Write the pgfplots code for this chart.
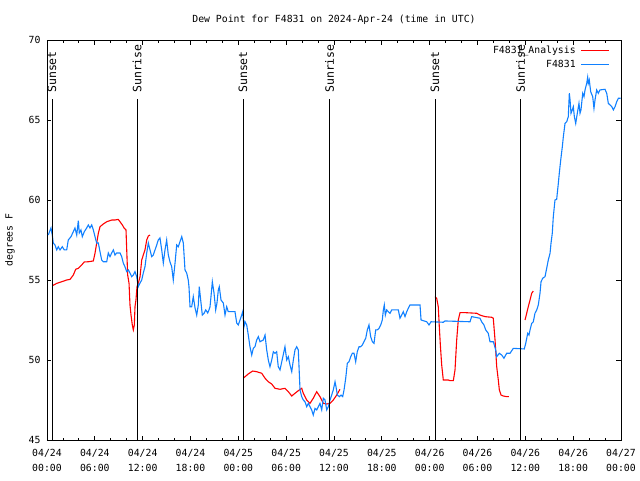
\documentclass[border=0pt]{standalone}
\usepackage{fontspec}
\setmainfont{DejaVu Sans Mono}
\usepackage{pgfplots}
\pgfplotsset{compat=1.18}
\definecolor{bl}{RGB}{16,128,255}
\definecolor{rd}{RGB}{255,0,0}
\pgfplotsset{longline/.style={legend image code/.code={\draw[#1] (0pt,0pt) -- (28pt,0pt);}}}
\begin{document}
\fontsize{9.8}{12}\selectfont
\begin{tikzpicture}
\useasboundingbox (-47pt,-40pt) rectangle (593pt,440pt);
\begin{axis}[
  at={(0,0)}, anchor=south west, scale only axis, width=574pt, height=400pt,
  xmin=0, xmax=72, ymin=45, ymax=70,
  xtick={0,6,...,72}, minor x tick num=2,
  xticklabels={{04/24\\00:00},{04/24\\06:00},{04/24\\12:00},{04/24\\18:00},{04/25\\00:00},{04/25\\06:00},{04/25\\12:00},{04/25\\18:00},{04/26\\00:00},{04/26\\06:00},{04/26\\12:00},{04/26\\18:00},{04/27\\00:00}},
  ytick={45,50,...,70},
  tick align=inside, major tick length=4.5pt, minor tick length=2.5pt,
  tick style={black, line width=0.8pt},
  axis line style={line width=0.8pt},
  /pgf/number format/assume math mode=true,
  tick label style={font=\fontsize{9.8}{15}\selectfont},
  xticklabel style={align=center, yshift=-6pt},
  yticklabel style={xshift=-3pt},
  title={Dew Point for F4831 on 2024-Apr-24 (time in UTC)},
  title style={at={(axis description cs:0.5,1)}, anchor=center, yshift=14pt, font=\fontsize{9.8}{12}\selectfont},
  ylabel={degrees F},
  ylabel style={at={(axis description cs:-0.0645,0.5)}, anchor=center, font=\fontsize{9.8}{12}\selectfont},
  legend style={at={(axis description cs:1,1)}, anchor=north east, xshift=-11pt, yshift=-4pt, draw=none, fill=none, inner sep=0pt, row sep=1pt, column sep=3pt, nodes={inner sep=2pt}, font=\fontsize{9.8}{12}\selectfont},
  legend cell align=right, legend plot pos=right,
  unbounded coords=jump,
]
\addplot[rd, line width=1.1pt, longline] coordinates {
(0.66,54.64) (1.22,54.79) (1.84,54.89) (2.47,55.00) (2.89,55.04) (3.30,55.31) (3.60,55.67) (3.93,55.73) (4.35,55.94) (4.68,56.13) (5.18,56.14) (5.81,56.19) (6.02,56.67) (6.23,57.29) (6.44,57.92) (6.65,58.33) (7.06,58.50) (7.49,58.64) (8.12,58.75) (8.53,58.75) (8.94,58.79) (9.16,58.64) (9.45,58.44) (9.70,58.23) (9.91,58.13) (10.00,56.88) (10.12,55.31) (10.29,54.79) (10.41,53.44) (10.54,52.81) (10.70,52.19) (10.83,51.88) (10.95,52.19) (11.04,53.33) (11.16,53.75) (11.29,54.58) (11.45,54.79) (11.67,55.21) (11.88,56.25) (12.08,56.56) (12.29,56.88) (12.51,57.50) (12.71,57.75) (12.92,57.81)
(13.0,nan)
(24.62,48.86) (25.25,49.13) (25.80,49.31) (26.30,49.27) (26.93,49.17) (27.35,48.86) (27.76,48.64) (28.19,48.50) (28.60,48.23) (29.23,48.17) (29.85,48.23) (30.27,48.02) (30.70,47.75) (31.11,47.92) (31.52,48.08) (31.95,48.23) (32.15,47.92) (32.58,47.50) (32.99,47.29) (33.40,47.61) (33.83,48.02) (34.24,47.71) (34.66,47.29) (35.09,47.25) (35.50,47.29) (35.91,47.50) (36.34,47.81) (36.75,48.17)
(37.0,nan)
(48.67,53.96) (48.88,53.86) (49.08,53.33) (49.21,52.08) (49.34,50.94) (49.51,49.69) (49.71,48.75) (50.34,48.75) (50.55,48.71) (50.97,48.71) (51.18,49.38) (51.39,51.25) (51.59,52.50) (51.81,52.96) (52.43,52.96) (53.90,52.92) (54.31,52.81) (54.94,52.71) (55.78,52.67) (55.98,52.61) (56.20,51.25) (56.41,49.58) (56.61,48.75) (56.74,48.13) (56.95,47.81) (57.24,47.75) (57.66,47.71) (57.95,47.71)
(58.5,nan)
(59.96,52.50) (60.17,52.92) (60.37,53.33) (60.59,53.75) (60.80,54.17) (61.00,54.31)
};
\addlegendentry{F4831\_Analysis}
\addplot[bl, line width=1.1pt, longline] coordinates {
(0.16,57.81) (0.50,58.25) (0.66,57.81) (0.79,57.31) (1.00,57.19) (1.22,56.88) (1.42,57.08) (1.63,56.88) (1.92,57.08) (2.17,56.88) (2.47,56.88) (2.67,57.50) (3.01,57.71) (3.30,58.02) (3.51,58.25) (3.73,57.81) (3.93,58.71) (4.05,57.94) (4.26,58.13) (4.43,57.71) (4.68,58.02) (4.98,58.25) (5.18,58.44) (5.39,58.25) (5.61,58.44) (5.81,58.13) (6.02,57.71) (6.23,57.31) (6.44,57.31) (6.65,56.77) (6.86,56.25) (7.06,56.14) (7.49,56.14) (7.69,56.69) (7.90,56.46) (8.12,56.69) (8.32,56.88) (8.53,56.56) (8.74,56.69) (9.16,56.69) (9.37,56.46) (9.57,56.06) (9.78,55.83) (10.00,55.52) (10.20,55.63) (10.41,55.44) (10.62,55.21) (10.83,55.31) (11.04,55.52) (11.25,55.21) (11.45,54.58) (11.67,54.81) (11.88,55.00) (12.08,55.44) (12.29,55.83) (12.51,56.69) (12.71,57.31) (12.92,56.88) (13.13,56.46) (13.33,56.56) (13.55,56.88) (13.76,57.19) (13.96,57.50) (14.17,57.63) (14.39,56.88) (14.59,56.06) (14.80,56.88) (15.01,57.50) (15.22,56.56) (15.43,56.13) (15.64,55.83) (15.84,55.00) (16.06,56.06) (16.27,57.19) (16.47,57.08) (16.68,57.39) (16.90,57.71) (17.10,57.31) (17.31,55.63) (17.52,55.44) (17.72,55.00) (17.81,54.58) (17.94,53.33) (18.15,53.33) (18.35,53.96) (18.57,53.25) (18.78,52.81) (18.98,53.44) (19.10,54.58) (19.32,53.56) (19.48,52.81) (19.73,52.94) (19.91,53.13) (20.16,52.94) (20.32,53.13) (20.45,53.33) (20.57,53.96) (20.74,54.89) (20.95,54.19) (21.16,53.13) (21.32,53.56) (21.49,54.38) (21.61,54.58) (21.83,53.75) (22.12,53.56) (22.33,52.81) (22.54,53.33) (22.74,53.02) (23.58,53.02) (23.80,52.31) (24.00,52.19) (24.21,52.50) (24.42,52.81) (24.55,53.02) (24.71,52.08) (24.84,52.39) (25.05,52.19) (25.25,51.56) (25.46,50.83) (25.68,50.31) (25.88,50.73) (26.09,50.83) (26.30,51.25) (26.51,51.46) (26.72,51.14) (27.13,51.25) (27.35,51.56) (27.56,50.63) (27.76,50.00) (27.97,49.58) (28.19,50.00) (28.39,50.52) (28.60,50.42) (28.81,50.52) (29.01,49.58) (29.23,49.38) (29.85,50.83) (30.07,50.00) (30.27,50.21) (30.48,49.69) (30.70,49.27) (30.90,50.00) (31.11,50.63) (31.32,50.83) (31.52,50.63) (31.74,48.13) (31.95,47.71) (32.15,47.50) (32.36,47.39) (32.58,47.08) (32.78,47.29) (32.99,47.08) (33.20,46.88) (33.40,46.56) (33.62,46.98) (33.83,46.88) (34.03,47.08) (34.24,47.29) (34.46,46.88) (34.66,47.61) (34.87,47.50) (35.09,46.88) (35.29,47.08) (35.50,47.50) (35.71,47.81) (35.91,48.13) (36.13,48.64) (36.25,48.33) (36.42,47.81) (36.67,47.71) (36.88,47.81) (37.09,47.71) (37.26,48.13) (37.47,48.86) (37.67,49.79) (37.88,49.89) (38.10,50.21) (38.30,50.42) (38.51,50.42) (38.72,49.89) (38.92,50.52) (39.14,50.83) (39.35,50.83) (39.55,50.94) (39.76,51.14) (39.98,51.36) (40.18,51.88) (40.39,52.19) (40.60,51.46) (40.81,51.14) (41.02,51.04) (41.23,51.88) (41.43,51.88) (41.65,51.98) (41.86,52.19) (42.06,52.50) (42.19,53.13) (42.31,53.44) (42.44,52.81) (42.61,53.13) (42.81,53.02) (43.03,52.92) (43.24,53.13) (44.07,53.13) (44.28,52.61) (44.49,52.81) (44.69,53.02) (44.91,52.71) (45.12,53.02) (45.32,53.23) (45.53,53.44) (46.79,53.44) (46.92,52.50) (47.63,52.39) (47.92,52.19) (48.17,52.39) (49.71,52.36) (49.92,52.44) (53.06,52.39) (53.27,52.71) (54.31,52.61) (54.52,52.39) (54.81,52.19) (55.03,51.88) (55.35,51.67) (55.57,51.14) (55.98,51.14) (56.11,50.94) (56.28,50.63) (56.41,50.21) (56.74,50.42) (57.04,50.31) (57.32,50.11) (57.66,50.42) (58.08,50.42) (58.49,50.73) (59.87,50.69) (60.05,51.04) (60.30,51.67) (60.46,51.56) (60.59,51.88) (60.80,52.29) (61.00,52.39) (61.21,52.92) (61.43,53.13) (61.63,53.44) (61.84,54.17) (61.97,54.89) (62.18,55.11) (62.47,55.21) (62.68,55.73) (62.88,56.25) (63.10,56.67) (63.22,57.29) (63.38,57.92) (63.51,58.96) (63.72,60.00) (63.93,60.04) (64.14,61.04) (64.26,61.67) (64.44,62.50) (64.64,63.33) (64.77,63.96) (64.98,64.79) (65.19,64.89) (65.39,65.21) (65.52,66.67) (65.61,66.25) (65.73,65.42) (65.89,65.63) (66.02,65.83) (66.15,65.21) (66.32,64.79) (66.52,65.42) (66.73,66.04) (66.86,65.42) (66.98,65.63) (67.20,66.67) (67.36,66.46) (67.49,66.88) (67.70,67.29) (67.82,67.67) (67.90,67.29) (68.02,67.50) (68.20,66.77) (68.45,66.46) (68.61,65.73) (68.74,66.25) (68.95,66.88) (69.15,66.67) (69.37,66.88) (69.99,66.92) (70.21,66.67) (70.41,66.04) (70.62,65.94) (70.84,65.83) (71.04,65.63) (71.25,65.83) (71.46,66.14) (71.67,66.36) (71.96,66.36)
};
\addlegendentry{F4831}
\addplot[black, line width=1pt, forget plot] coordinates {(0.63,45) (0.63,66.31)};
\addplot[black, line width=1pt, forget plot] coordinates {(11.29,45) (11.29,66.31)};
\addplot[black, line width=1pt, forget plot] coordinates {(24.59,45) (24.59,66.31)};
\addplot[black, line width=1pt, forget plot] coordinates {(35.44,45) (35.44,66.31)};
\addplot[black, line width=1pt, forget plot] coordinates {(48.67,45) (48.67,66.31)};
\addplot[black, line width=1pt, forget plot] coordinates {(59.40,45) (59.40,66.31)};
\node[rotate=90, anchor=west, font=\fontsize{11.5}{12}\selectfont, inner sep=0pt] at (axis cs:0.63,66.69) {Sunset};
\node[rotate=90, anchor=west, font=\fontsize{11.5}{12}\selectfont, inner sep=0pt] at (axis cs:11.29,66.69) {Sunrise};
\node[rotate=90, anchor=west, font=\fontsize{11.5}{12}\selectfont, inner sep=0pt] at (axis cs:24.59,66.69) {Sunset};
\node[rotate=90, anchor=west, font=\fontsize{11.5}{12}\selectfont, inner sep=0pt] at (axis cs:35.44,66.69) {Sunrise};
\node[rotate=90, anchor=west, font=\fontsize{11.5}{12}\selectfont, inner sep=0pt] at (axis cs:48.67,66.69) {Sunset};
\node[rotate=90, anchor=west, font=\fontsize{11.5}{12}\selectfont, inner sep=0pt] at (axis cs:59.40,66.69) {Sunrise};
\end{axis}
\end{tikzpicture}
\end{document}
